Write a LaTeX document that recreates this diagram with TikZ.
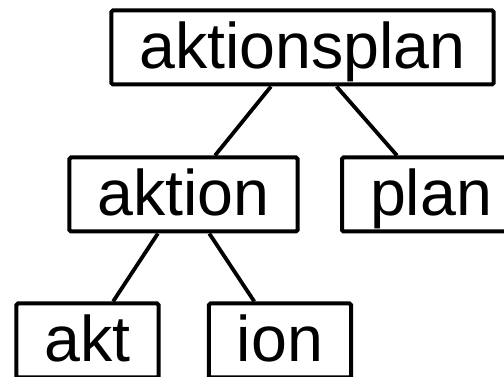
\documentclass[tikz,border=0pt]{standalone}
\usepackage{fontspec}
\setmainfont{Liberation Sans}
\usetikzlibrary{positioning}

\begin{document}
\begin{tikzpicture}[
  x=1pt, y=1pt,
  morph/.style={draw, line width=4pt, rounded corners=1.5pt,
                minimum height=74pt, inner xsep=28pt, inner ysep=0pt,
                text height=46pt, text depth=4pt,
                font=\fontsize{64.5}{70}\selectfont},
  edge/.style={line width=3.8pt},
]
  \clip (0,0) rectangle (504,377);

  % whole word
  \node[morph] (aktionsplan) at (302.5,329.5) {aktionsplan};

  % first split
  \node[morph] (aktion) at (183.5,182.5) {aktion};
  \node[morph] (plan) at (431,182.5) {plan};

  % second split
  \node[morph] (akt) at (87.5,36.5) {akt};
  \node[morph] (ion) at (280,36.5) {ion};

  \draw[edge] (aktionsplan) -- (aktion);
  \draw[edge] (aktionsplan) -- (plan);
  \draw[edge] (aktion) -- (akt);
  \draw[edge] (aktion) -- (ion);
\end{tikzpicture}
\end{document}
